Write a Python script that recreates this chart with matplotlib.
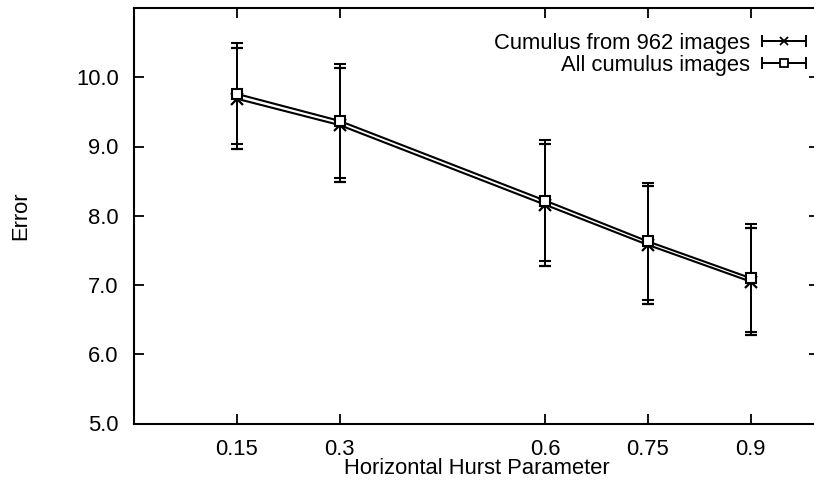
import matplotlib
matplotlib.use("Agg")
import matplotlib.pyplot as plt
from matplotlib.container import ErrorbarContainer
from matplotlib.legend_handler import HandlerErrorbar
from matplotlib.lines import Line2D
from matplotlib.collections import LineCollection

plt.rcParams["font.family"] = ["Liberation Sans", "DejaVu Sans"]

hurst = [0.15, 0.3, 0.6, 0.75, 0.9]
cum962 = [9.69, 9.31, 8.16, 7.58, 7.05]
cum962_err = [0.73, 0.82, 0.88, 0.85, 0.77]
allcum = [9.76, 9.37, 8.22, 7.63, 7.10]
allcum_err = [0.73, 0.82, 0.88, 0.85, 0.78]
labels = ["Cumulus from 962 images", "All cumulus images"]
yticks = [5.0, 6.0, 7.0, 8.0, 9.0, 10.0]

FS = 15.8

fig = plt.figure(figsize=(8.14, 4.8), dpi=100)
ax = fig.add_axes([134 / 814, 1 - 423.5 / 480, 685 / 814, 415.5 / 480])

ax.errorbar(hurst, cum962, yerr=cum962_err, color="black", lw=1.5, elinewidth=1.4,
            capsize=4, capthick=1.4, marker="x", ms=8, mew=1.6)
ax.errorbar(hurst, allcum, yerr=allcum_err, color="black", lw=1.5, elinewidth=1.4,
            capsize=4, capthick=1.4, marker="s", ms=7, mfc="white", mew=1.5)

ax.set_xlim(0, 1.0)
ax.set_ylim(5, 11)
ax.set_xticks(hurst)
ax.set_xticklabels([f"{v:g}" for v in hurst])
ax.set_yticks(yticks)
ax.set_yticklabels([f"{v:.1f}" for v in yticks])
ax.tick_params(direction="in", length=7, width=1.3, top=True, right=True,
               labelsize=FS, pad=11)
for sp in ax.spines.values():
    sp.set_linewidth(1.5)

ax.set_xlabel("Horizontal Hurst Parameter", fontsize=FS)
ax.xaxis.set_label_coords(0.5, -0.083)
ax.set_ylabel("Error", fontsize=FS, ha="center", va="center")
ax.yaxis.set_label_coords(-0.166, 0.5)

# gnuplot-style legend samples: horizontal bar with caps and the point marker
handles = []
for mk, mfc in [("x", "black"), ("s", "white")]:
    ln = Line2D([], [], color="black", lw=1.4, marker=mk, ms=6, mfc=mfc, mew=1.3)
    cap = Line2D([], [], color="black", marker="|", ms=8, mew=1.4)
    bar = LineCollection([], colors="black", linewidths=1.4)
    handles.append(ErrorbarContainer((ln, (cap, cap), (bar,)), has_xerr=True, has_yerr=False))

ax.legend(handles, labels, loc="upper right", bbox_to_anchor=(0.981, 0.941),
          frameon=False, markerfirst=False, fontsize=FS, borderpad=0,
          borderaxespad=0, labelspacing=0.06, handlelength=2.0, handletextpad=0.55,
          handler_map={ErrorbarContainer: HandlerErrorbar(xerr_size=1.0)})

fig.savefig("out.png", dpi=100)
